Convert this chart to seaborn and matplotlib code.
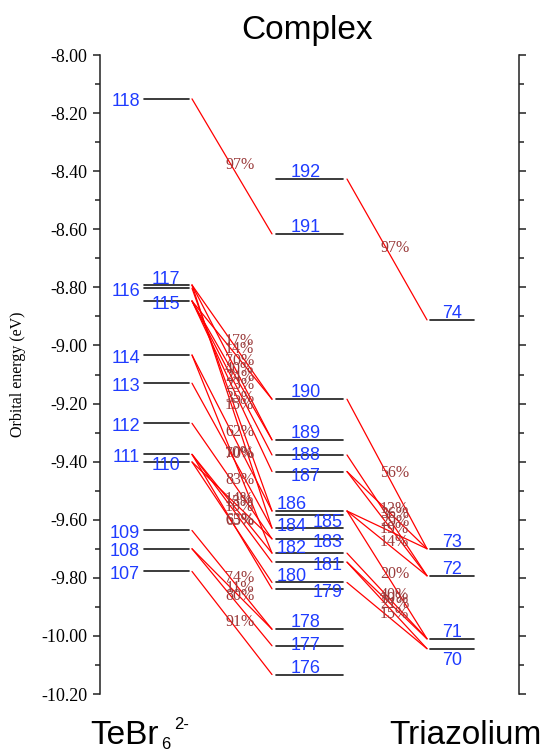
import matplotlib
matplotlib.use("Agg")
import matplotlib.pyplot as plt
from matplotlib.ticker import MultipleLocator, FormatStrFormatter
import pandas as pd
import seaborn as sns

# ── Orbital levels (eV) ──────────────────────────────────────────────────────
tebr_ids = [118, 117, 116, 115, 114, 113, 112, 111, 110, 109, 108, 107]
tebr_E = [-8.151, -8.792, -8.803, -8.847, -9.033, -9.130, -9.268,
          -9.375, -9.401, -9.637, -9.700, -9.778]

complex_ids = [192, 191, 190, 189, 188, 187, 186, 185, 184,
               183, 182, 181, 180, 179, 178, 177, 176]
complex_E = [-8.427, -8.616, -9.185, -9.325, -9.377, -9.434, -9.570,
             -9.585, -9.629, -9.666, -9.715, -9.746, -9.816, -9.838,
             -9.977, -10.034, -10.133]

tri_ids = [74, 73, 72, 71, 70]
tri_E = [-8.912, -9.700, -9.793, -10.010, -10.044]

# ── Contributions TeBr6(2-) -> complex ──────────────────────────────────────
left_from = [118, 117, 115, 117, 115, 115, 115, 116, 117, 114, 113,
             114, 112, 111, 110, 111, 110, 111, 109, 108, 108, 107]
left_to = [191, 190, 190, 189, 189, 188, 187, 186, 184, 186, 184,
           182, 183, 182, 183, 181, 180, 179, 178, 178, 177, 176]
left_pct = [97, 17, 14, 70, 40, 24, 23, 35, 15, 62, 70,
            10, 83, 13, 14, 10, 65, 63, 74, 11, 80, 91]

# ── Contributions complex -> triazolium ─────────────────────────────────────
right_from = [192, 190, 187, 188, 187, 186, 186, 186, 182, 181, 181, 180]
right_to = [74, 73, 73, 72, 72, 73, 72, 71, 71, 71, 70, 70]
right_pct = [97, 56, 12, 36, 29, 19, 14, 20, 40, 10, 21, 15]

# ── Layout (x in pixels from the left spine) ────────────────────────────────
SPANS = {"tebr": (44, 89), "complex": (176, 243), "tri": (330, 374)}
LINK_X = {"left": (92, 172), "right": (247, 327)}
BLUE = "#1f3cff"
PCT_COL = "#9a3b3b"
PX = 0.72  # points per pixel at dpi 100

# label placement overrides: orbital -> (x, dy in px, ha)
LABEL_AT = {
    117: (66, -8, "center"), 115: (66, 1, "center"), 110: (66, 1.5, "center"),
    188: (206, -1, "center"), 187: (206, 3, "center"),
    186: (192, -9, "center"), 185: (228, 5, "center"),
    184: (192, -3.5, "center"), 183: (228, 1.5, "center"),
    182: (192, -6.5, "center"), 181: (228, 1.5, "center"),
    180: (192, -8, "center"), 179: (228, 1.5, "center"),
    177: (206, -2, "center"), 70: (352, 10, "center"),
}
DEFAULT_AT = {"tebr": (40, 1, "right"), "complex": (206, -8.5, "center"),
              "tri": (352, -8.5, "center")}

sns.set_theme(style="ticks")
plt.rcParams["font.family"] = ["Liberation Sans", "DejaVu Sans"]
plt.rcParams["axes.unicode_minus"] = False
for key in ("text.color", "axes.labelcolor", "ytick.color", "xtick.color"):
    plt.rcParams[key] = "black"

columns = [("tebr", tebr_ids, tebr_E), ("complex", complex_ids, complex_E),
           ("tri", tri_ids, tri_E)]
energy = {}
rows = []
for col, ids, ens in columns:
    x0, x1 = SPANS[col]
    for orb, e in zip(ids, ens):
        energy[orb] = e
        rows.append(dict(orb=orb, x=x0, E=e))
        rows.append(dict(orb=orb, x=x1, E=e))
levels = pd.DataFrame(rows)

link_rows = []
pct_rows = []
k = 0
for side, froms, tos, pcts in [("left", left_from, left_to, left_pct),
                               ("right", right_from, right_to, right_pct)]:
    xa, xb = LINK_X[side]
    for a, b, p in zip(froms, tos, pcts):
        link_rows.append(dict(link=k, x=xa, E=energy[a]))
        link_rows.append(dict(link=k, x=xb, E=energy[b]))
        pct_rows.append(dict(x=(xa + xb) / 2, E=(energy[a] + energy[b]) / 2, pct=p))
        k += 1
links = pd.DataFrame(link_rows)
pcts_df = pd.DataFrame(pct_rows)

fig = plt.figure(figsize=(5.42, 7.49), dpi=100)
ax = fig.add_axes([100 / 542, 55 / 749, 419 / 542, 639 / 749])

sns.lineplot(data=links, x="x", y="E", units="link", estimator=None, sort=False,
             color="red", linewidth=0.9, ax=ax)
sns.lineplot(data=levels, x="x", y="E", units="orb", estimator=None, sort=False,
             color="#1a1a1a", linewidth=1.2, ax=ax)

for _, r in pcts_df.iterrows():
    ax.annotate(f"{r.pct:.0f}%", xy=(r.x, r.E), xytext=(5.5, 1.0),
                textcoords="offset points", ha="center", va="center",
                family="Liberation Serif", fontsize=11.5, color=PCT_COL)

for col, ids, ens in columns:
    for orb, e in zip(ids, ens):
        x, dy, ha = LABEL_AT.get(orb, DEFAULT_AT[col])
        ax.annotate(str(orb), xy=(x, e), xytext=(0, -dy * PX),
                    textcoords="offset points", ha=ha, va="center_baseline",
                    fontsize=13, color=BLUE)

ax.set_xlim(0, 419)
ax.set_ylim(-10.20, -8.00)
ax.set_xticks([])
ax.set_xlabel("")
ax.set_ylabel("")
ax.yaxis.set_major_locator(MultipleLocator(0.2))
ax.yaxis.set_minor_locator(MultipleLocator(0.1))
ax.yaxis.set_major_formatter(FormatStrFormatter("%.2f"))
ax.tick_params(axis="y", which="both", direction="out", left=True, right=True,
               labelright=False, width=1.1, color="#222222", pad=4)
ax.tick_params(axis="y", which="major", length=5, labelsize=13)
ax.tick_params(axis="y", which="minor", length=3.5)
for lab in ax.get_yticklabels():
    lab.set_family("Liberation Serif")
sns.despine(ax=ax, top=True, bottom=True, left=False, right=False)
for s in ("left", "right"):
    ax.spines[s].set_color("#222222")
    ax.spines[s].set_linewidth(1.1)
ax.set_facecolor("white")

fig.text(18 / 542, 1 - 374 / 749, "Orbital energy (eV)", rotation=90,
         ha="center", va="center", family="Liberation Serif", fontsize=11.5)
fig.text(307 / 542, 1 - 30 / 749, "Complex", ha="center", va="center",
         fontsize=24)
fig.text(90 / 542, 1 - 744 / 749, "TeBr", ha="left", va="baseline", fontsize=24)
fig.text(161 / 542, 1 - 749 / 749, "6", ha="left", va="baseline", fontsize=12)
fig.text(174 / 542, 1 - 729 / 749, "2-", ha="left", va="baseline", fontsize=12)
fig.text(389 / 542, 1 - 744 / 749, "Triazolium", ha="left", va="baseline",
         fontsize=24)

fig.savefig("out.png", dpi=100, facecolor="white")
